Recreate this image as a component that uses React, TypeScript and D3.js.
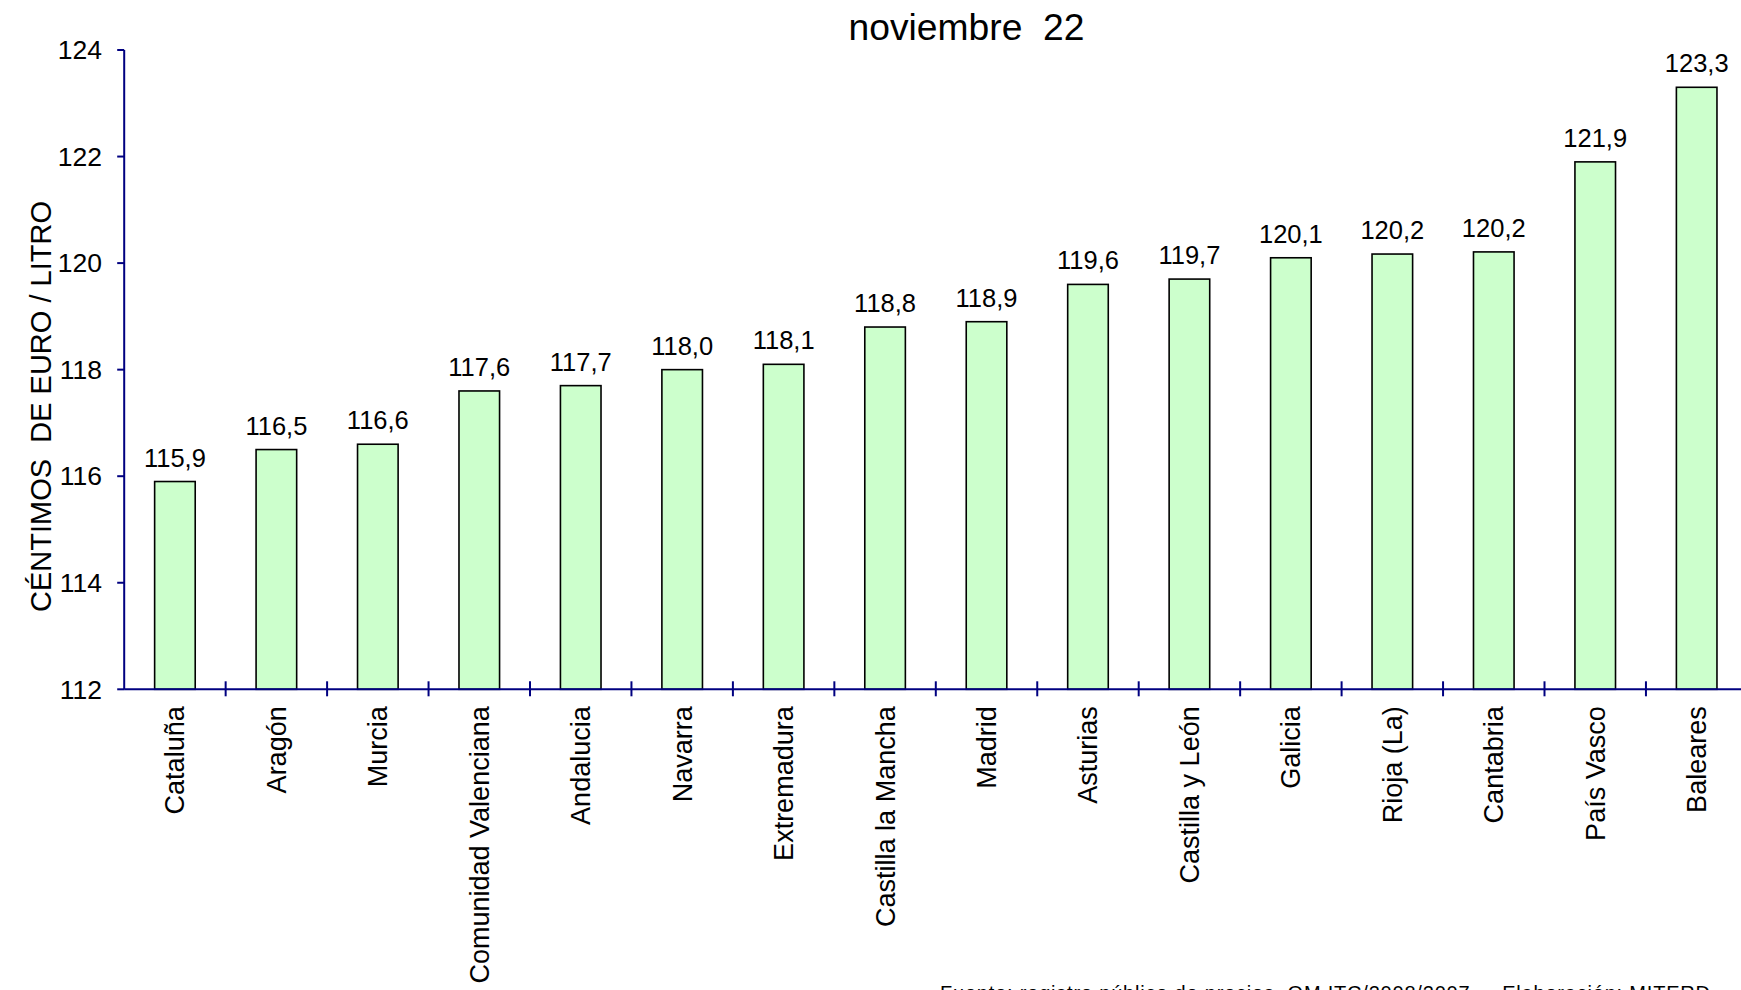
import React from 'react';
import * as d3 from 'd3';

const regions = [
  'Cataluña', 'Aragón', 'Murcia', 'Comunidad Valenciana', 'Andalucia', 'Navarra',
  'Extremadura', 'Castilla la Mancha', 'Madrid', 'Asturias', 'Castilla y León',
  'Galicia', 'Rioja (La)', 'Cantabria', 'País Vasco', 'Baleares',
];
const prices = [
  115.9, 116.5, 116.6, 117.6, 117.7, 118.0, 118.1, 118.8, 118.9, 119.6, 119.7,
  120.1, 120.17, 120.21, 121.9, 123.3,
];
const yTicks = [112, 114, 116, 118, 120, 122, 124];

const title = 'noviembre  22';
const yTitle = 'CÉNTIMOS  DE EURO / LITRO';
const footer = 'Fuente: registro público de precios. OM ITC/2008/2007.    Elaboración: MITERD';

const W = 1741;
const H = 990;
const font = '"Liberation Sans", Arial, sans-serif';
const axisColor = '#000080';

const App = () => {
  // bands run a little past the right edge, as in the original
  const band = d3.scaleBand<string>().domain(regions).range([124.2, 124.2 + 16 * 101.45]);
  const x = band.copy().paddingInner(0.6).paddingOuter(0.3);

  const y = d3.scaleLinear().domain([112, 124]).range([689.3, 50]);
  const fmt = (v: number) => v.toFixed(1).replace('.', ',');

  const baseY = y(112);
  const x0 = band.range()[0];

  return (
    <svg width={W} height={H} style={{ position: 'absolute', left: 0, top: 0, background: '#fff' }}
      fontFamily={font}>
      <text x={966.5} y={40} fontSize={36} textAnchor="middle" textLength={236} lengthAdjust="spacingAndGlyphs"
        style={{ whiteSpace: 'pre' }}>{title}</text>

      <text transform={`translate(51,406.5) rotate(-90)`} fontSize={29} textAnchor="middle"
        style={{ whiteSpace: 'pre' }}>{yTitle}</text>

      {regions.map((r, i) => (
        <g key={r}>
          <rect x={x(r)} y={y(prices[i])} width={x.bandwidth()} height={baseY - y(prices[i])}
            fill="#CCFFCC" stroke="#000" strokeWidth={1.6} />
          <text x={x(r)! + x.bandwidth() / 2} y={y(prices[i]) - 15} fontSize={25.5} textAnchor="middle">
            {fmt(prices[i])}
          </text>
        </g>
      ))}

      {/* y axis */}
      <line x1={x0} x2={x0} y1={y(124)} y2={baseY} stroke={axisColor} strokeWidth={2} />
      {yTicks.map(t => (
        <g key={t}>
          <line x1={x0 - 7} x2={x0} y1={y(t)} y2={y(t)} stroke={axisColor} strokeWidth={2} />
          <text x={102} y={y(t)} dy="0.35em" fontSize={26.5} textAnchor="end">{t}</text>
        </g>
      ))}

      {/* x axis */}
      <line x1={x0} x2={W} y1={baseY} y2={baseY} stroke={axisColor} strokeWidth={2} />
      {regions.slice(1).map(r => (
        <line key={r} x1={band(r)} x2={band(r)} y1={baseY - 8} y2={baseY + 7}
          stroke={axisColor} strokeWidth={2} />
      ))}
      {regions.map(r => (
        <text key={r} transform={`translate(${band(r)! + band.bandwidth() / 2},${baseY + 17}) rotate(-90)`}
          fontSize={27} textAnchor="end" dy="0.35em">{r}</text>
      ))}

      <text x={940} y={1000} fontSize={20} textLength={770} lengthAdjust="spacing"
        style={{ whiteSpace: 'pre' }}>{footer}</text>
    </svg>
  );
};

export default App;
